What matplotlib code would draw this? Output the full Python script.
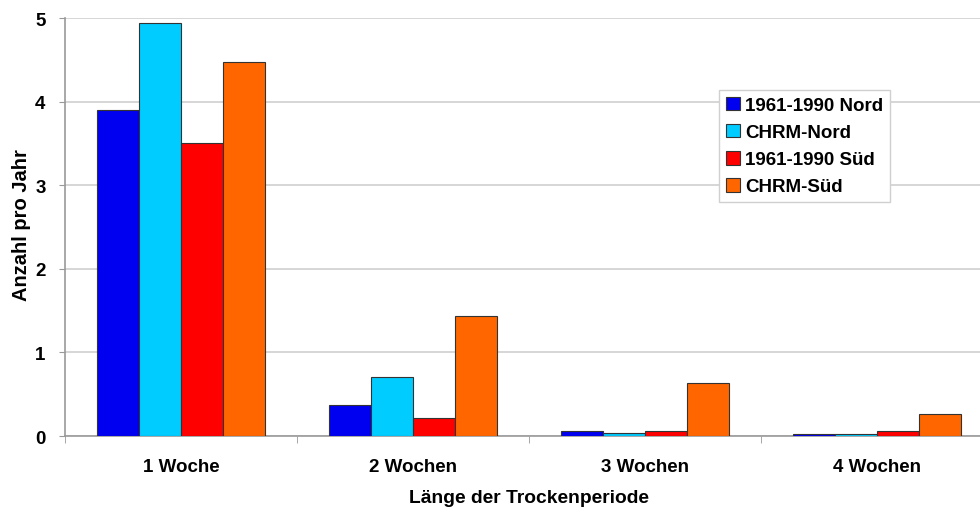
import numpy as np
from matplotlib import pyplot as plt
from matplotlib.patches import Patch

plt.rcParams['font.family'] = ['Liberation Sans', 'DejaVu Sans']
plt.rcParams['font.weight'] = 'bold'

categories = ['1 Woche', '2 Wochen', '3 Wochen', '4 Wochen']
series_names = ['1961-1990 Nord', 'CHRM-Nord', '1961-1990 Süd', 'CHRM-Süd']
nord_1961_1990 = [3.90, 0.37, 0.065, 0.02]
chrm_nord = [4.94, 0.70, 0.04, 0.03]
sued_1961_1990 = [3.50, 0.22, 0.065, 0.065]
chrm_sued = [4.47, 1.43, 0.64, 0.26]
y_ticks = [0, 1, 2, 3, 4, 5]

series_values = [nord_1961_1990, chrm_nord, sued_1961_1990, chrm_sued]
series_colors = ['#0000f0', '#00ccff', '#ff0000', '#ff6600']

fig = plt.figure(figsize=(9.8, 5.1), dpi=100)
ax = fig.add_axes((0.0663, 0.1431, 0.947, 0.8196))

x = np.arange(len(categories))
bar_width = 0.181
offsets = (np.arange(len(series_values)) - 1.5) * bar_width
for values, color, offset in zip(series_values, series_colors, offsets):
    ax.bar(x + offset, values, width=bar_width, color=color, edgecolor='#333333',
           linewidth=0.8, zorder=3)

ax.set_xlim(-0.5, len(categories) - 0.5)
ax.set_ylim(0, 5)
ax.set_yticks(y_ticks)
ax.yaxis.grid(True, color='#cfcfcf', linewidth=1.2, zorder=0)
ax.set_xticks(x)
ax.set_xticklabels(categories, fontsize=13.5, fontweight='bold')
ax.set_xticks(np.arange(len(categories) + 1) - 0.5, minor=True)
ax.tick_params(axis='x', which='major', length=0, pad=16)
ax.tick_params(axis='x', which='minor', length=5, color='#999999')
ax.tick_params(axis='y', length=4, color='#999999', labelsize=13.5, pad=10)
for label in ax.get_yticklabels():
    label.set_fontweight('bold')

for side in ['top', 'right']:
    ax.spines[side].set_visible(False)
for side in ['left', 'bottom']:
    ax.spines[side].set_color('#999999')
    ax.spines[side].set_linewidth(1.2)

ax.set_xlabel('Länge der Trockenperiode', fontsize=13.9, fontweight='bold', labelpad=10)
ax.set_ylabel('Anzahl pro Jahr', fontsize=14.5, fontweight='bold')
ax.yaxis.set_label_coords(-0.037, 0.507)

handles = [Patch(facecolor=c, edgecolor='#333333', linewidth=0.8) for c in series_colors]
legend = ax.legend(handles, series_names, loc='upper left', bbox_to_anchor=(0.7047, 0.8278),
                   frameon=True, fancybox=False, framealpha=1, edgecolor='#d0d0d0',
                   prop={'size': 13.5, 'weight': 'bold'}, handlelength=0.75,
                   handleheight=0.75, handletextpad=0.3, labelspacing=0.52,
                   borderpad=0.35, borderaxespad=0)
legend.get_frame().set_linewidth(1.0)

fig.savefig('out.png', dpi=100, facecolor='white')
